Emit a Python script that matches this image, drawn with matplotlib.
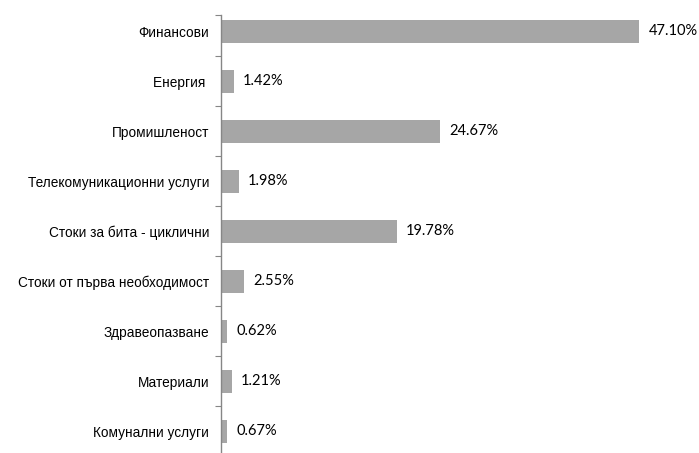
import matplotlib
matplotlib.use('Agg')
import matplotlib.pyplot as plt
import numpy as np

# Sector weights, top to bottom as shown
categories = ['Финансови', 'Енергия ', 'Промишленост', 'Телекомуникационни услуги',
              'Стоки за бита - циклични', 'Стоки от първа необходимост',
              'Здравеопазване', 'Материали', 'Комунални услуги']
values = [47.10, 1.42, 24.67, 1.98, 19.78, 2.55, 0.62, 1.21, 0.67]

W, H = 699, 453
fig = plt.figure(figsize=(W / 100, H / 100), dpi=100)
# axes box in pixels: left 221, top 15, right ~ 690, bottom 453
left, right, top, bottom = 221, 690, 15, 453
ax = fig.add_axes([left / W, 1 - bottom / H, (right - left) / W, (bottom - top) / H])

y = np.arange(len(categories))
ax.barh(y, values, height=0.47, color='#a6a6a6', zorder=2)

xmax = 47.10 * (right - left) / (639 - left)
y_top = -(31.5 - 15) / 50
y_bot = 8 + (453 - 431.5) / 50

for yi, v in zip(y, values):
    ax.text(v + 9.5 * xmax / (right - left), yi, f'{v:.2f}%', va='center', ha='left',
            fontsize=10.5, family='Lato', color='#000000')

for s in ['top', 'right', 'bottom']:
    ax.spines[s].set_visible(False)
ax.spines['left'].set_color('#868686')
ax.spines['left'].set_linewidth(1.0)

ax.set_xticks([])
# tick marks at the axis top and at category boundaries
ax.set_yticks([y_top] + list(np.arange(0.5, len(categories) - 1, 1.0)))
ax.set_yticklabels([])
ax.tick_params(axis='y', length=4, color='#868686', direction='out')
ax.set_yticks(y, minor=True)
ax.set_yticklabels(categories, minor=True, fontsize=9.8, family='Liberation Sans')
ax.tick_params(axis='y', which='minor', length=0, pad=8.5)

ax.set_xlim(0, xmax)
ax.set_ylim(y_bot, y_top)

fig.savefig('out.png', dpi=100)
